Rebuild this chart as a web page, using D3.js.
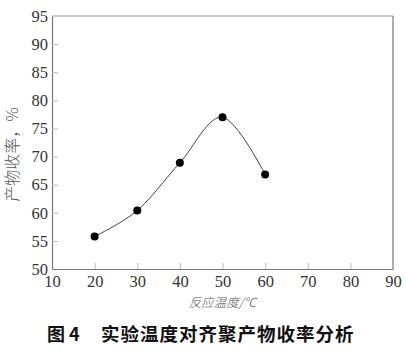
<!DOCTYPE html>
<html><head><meta charset="utf-8">
<script src="https://cdn.jsdelivr.net/npm/d3@7"></script>
<style>body{margin:0;background:#fff}svg{display:block}</style>
</head><body>
<script>
const temps = [20, 30, 40, 50, 60];
const yields = [55.8, 60.4, 68.9, 77.0, 66.8];
const xTicks = [10, 20, 30, 40, 50, 60, 70, 80, 90];
const yTicks = [50, 55, 60, 65, 70, 75, 80, 85, 90, 95];
const xLabel = "反应温度/℃";
const yLabel = "产物收率，%";
const captionFig = "图 4";
const caption = "实验温度对齐聚产物收率分析";

const W = 406, H = 351;
const m = {l: 52, r: 13, t: 16, b: 82};
const svg = d3.select("body").append("svg").attr("width", W).attr("height", H);
const x = d3.scaleLinear().domain([10, 90]).range([m.l, W - m.r]);
const y = d3.scaleLinear().domain([50, 95]).range([H - m.b, m.t]);

// frame
svg.append("line").attr("x1", m.l).attr("x2", W - m.r).attr("y1", m.t).attr("y2", m.t)
  .attr("stroke", "#bbb").attr("stroke-width", 1.5);
svg.append("line").attr("x1", W - m.r).attr("x2", W - m.r).attr("y1", m.t).attr("y2", H - m.b)
  .attr("stroke", "#777").attr("stroke-width", 1.2);

const xa = svg.append("g").attr("transform", `translate(0,${H - m.b})`)
  .call(d3.axisBottom(x).tickValues(xTicks).tickSizeInner(-6).tickSizeOuter(0).tickPadding(6));
const ya = svg.append("g").attr("transform", `translate(${m.l},0)`)
  .call(d3.axisLeft(y).tickValues(yTicks).tickSizeInner(-6).tickSizeOuter(0).tickPadding(4));
[xa, ya].forEach(a => {
  a.attr("font-family", "Liberation Serif").attr("font-size", 16.5);
  a.select(".domain").attr("stroke", "#777").attr("stroke-width", 1.2);
  a.selectAll(".tick line").attr("stroke", "#bbb");
  a.selectAll(".tick text").style("font-family", "'Liberation Serif','Times New Roman',serif")
    .style("font-size", "16.5px").attr("fill", "#333");
});
xa.selectAll(".tick").filter(d => d === 10 || d === 90).select("line").remove();
ya.selectAll(".tick").filter(d => d === 50 || d === 95).select("line").remove();

// curve
const pts = temps.map((t, i) => [x(t), y(yields[i])]);
svg.append("path").attr("d", d3.line().curve(d3.curveCardinal.tension(0))(pts))
  .attr("fill", "none").attr("stroke", "#444").attr("stroke-width", 1);
svg.selectAll("circle.pt").data(pts).join("circle").attr("class", "pt")
  .attr("cx", d => d[0]).attr("cy", d => d[1]).attr("r", 4).attr("fill", "#000");

// labels
svg.append("text").attr("x", (m.l + W - m.r) / 2).attr("y", 307).attr("text-anchor", "middle")
  .style("font-family", "'Noto Sans CJK SC',sans-serif").attr("font-style", "italic").attr("font-size", 12.5)
  .attr("font-weight", 300).attr("fill", "#555").text(xLabel);
svg.append("text").attr("transform", `translate(18,${(m.t + H - m.b) / 2 + 12}) rotate(-90)`)
  .attr("text-anchor", "middle").style("font-family", "'Noto Sans CJK SC',serif")
  .attr("font-size", 16).attr("font-weight", 300).attr("fill", "#555").text(yLabel);
svg.append("text").attr("x", 47).attr("y", 341)
  .style("font-family", "'Noto Sans CJK SC',sans-serif").attr("font-weight", "bold")
  .attr("font-size", 18).attr("fill", "#111").text(captionFig);
svg.append("text").attr("x", 101).attr("y", 341)
  .style("font-family", "'Noto Sans CJK SC',sans-serif").attr("font-weight", "bold")
  .attr("font-size", 18.5).attr("letter-spacing", 1).attr("fill", "#111").text(caption);
</script>
</body></html>
